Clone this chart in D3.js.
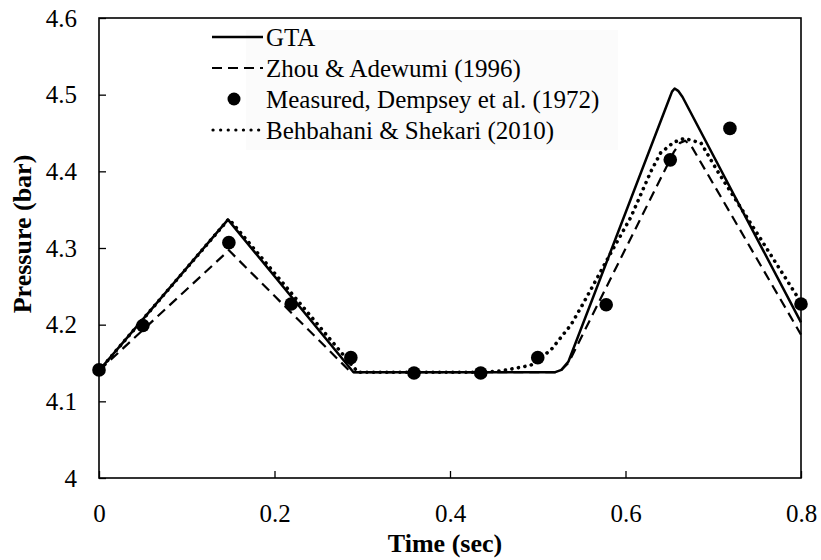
<!DOCTYPE html>
<html>
<head>
<meta charset="utf-8">
<script src="https://cdn.jsdelivr.net/npm/d3@7"></script>
<style>
  html, body { margin: 0; padding: 0; background: #fff; }
  svg { display: block; }
  text { font-family: "Liberation Serif", "Times New Roman", serif; fill: #000; }
</style>
</head>
<body>
<svg id="chart" width="821" height="560"></svg>
<script>
// ---- data ----
const xTicks = [0, 0.2, 0.4, 0.6, 0.8];
const xTickLabels = ["0", "0.2", "0.4", "0.6", "0.8"];
const yTicks = [4, 4.1, 4.2, 4.3, 4.4, 4.5, 4.6];
const yTickLabels = ["4", "4.1", "4.2", "4.3", "4.4", "4.5", "4.6"];

const gtaTime     = [0, 0.147, 0.29, 0.52, 0.527, 0.535, 0.65, 0.653, 0.656, 0.66, 0.665, 0.8];
const gtaPressure = [4.14, 4.337, 4.138, 4.138, 4.141, 4.152, 4.495, 4.504, 4.508, 4.505, 4.497, 4.203];

const zhouTime     = [0, 0.148, 0.287, 0.52, 0.527, 0.535, 0.655, 0.662, 0.668, 0.675, 0.8];
const zhouPressure = [4.14, 4.297, 4.138, 4.138, 4.141, 4.15, 4.425, 4.437, 4.44, 4.433, 4.187];

const measTime     = [0, 0.05, 0.148, 0.219, 0.287, 0.359, 0.435, 0.5, 0.578, 0.651, 0.719, 0.8];
const measPressure = [4.141, 4.199, 4.307, 4.227, 4.157, 4.137, 4.137, 4.157, 4.226, 4.415, 4.456, 4.227];

const behTime     = [0, 0.148, 0.295, 0.44, 0.46, 0.492, 0.515, 0.538, 0.552, 0.583, 0.606, 0.629, 0.64, 0.655, 0.667, 0.686, 0.705, 0.8];
const behPressure = [4.14, 4.338, 4.138, 4.138, 4.14, 4.147, 4.167, 4.2, 4.228, 4.293, 4.34, 4.40, 4.424, 4.438, 4.443, 4.437, 4.40, 4.229];

const legendLabels = ["GTA", "Zhou & Adewumi (1996)", "Measured, Dempsey et al. (1972)", "Behbahani & Shekari (2010)"];
const xTitle = "Time (sec)";
const yTitle = "Pressure (bar)";

// ---- layout ----
const FONT = '"Liberation Serif", "Times New Roman", serif';
const svg = d3.select("#chart");
const L = 99, R = 801, T = 18, B = 478;
const x = d3.scaleLinear().domain([0, 0.8]).range([L, R]);
const y = d3.scaleLinear().domain([4, 4.6]).range([B, T]);

// legend background (very faint)
svg.append("rect").attr("x", 246).attr("y", 30).attr("width", 372).attr("height", 120)
  .attr("fill", "#fbfbfb");

// axes
const xAxis = d3.axisBottom(x).tickValues(xTicks).tickSizeInner(-7).tickSizeOuter(0)
  .tickFormat((d, i) => xTickLabels[i]).tickPadding(26);
const gx = svg.append("g").attr("transform", `translate(0,${B})`).call(xAxis)
  .attr("font-family", FONT).attr("font-size", 25);
gx.select(".domain").remove();
gx.selectAll("line").attr("stroke", "#000").attr("stroke-width", 1.3);
gx.selectAll("text").style("font-family", FONT).style("font-size", "25px").attr("fill", "#000");

const yAxis = d3.axisLeft(y).tickValues(yTicks).tickSizeInner(-7).tickSizeOuter(0)
  .tickFormat((d, i) => yTickLabels[i]).tickPadding(22);
const gy = svg.append("g").attr("transform", `translate(${L},0)`).call(yAxis)
  .attr("font-family", FONT).attr("font-size", 25);
gy.select(".domain").remove();
gy.selectAll("line").attr("stroke", "#000").attr("stroke-width", 1.3);
gy.selectAll("text").style("font-family", FONT).style("font-size", "25px").attr("fill", "#000");

// frame
svg.append("rect").attr("x", L).attr("y", T).attr("width", R - L).attr("height", B - T)
  .attr("fill", "none").attr("stroke", "#000").attr("stroke-width", 1.6);

// lines
const line = d3.line().x(d => x(d[0])).y(d => y(d[1])).curve(d3.curveLinear);
const zip = (a, b) => a.map((v, i) => [v, b[i]]);

svg.append("path").datum(zip(zhouTime, zhouPressure)).attr("d", line)
  .attr("fill", "none").attr("stroke", "#000").attr("stroke-width", 2.2)
  .attr("stroke-dasharray", "10,6");
svg.append("path").datum(zip(behTime, behPressure)).attr("d", line)
  .attr("fill", "none").attr("stroke", "#000").attr("stroke-width", 3.6)
  .attr("stroke-linecap", "round").attr("stroke-dasharray", "0.1,6.5");
svg.append("path").datum(zip(gtaTime, gtaPressure)).attr("d", line)
  .attr("fill", "none").attr("stroke", "#000").attr("stroke-width", 2.5)
  .attr("stroke-linejoin", "round");

svg.append("g").selectAll("circle").data(zip(measTime, measPressure)).join("circle")
  .attr("cx", d => x(d[0])).attr("cy", d => y(d[1])).attr("r", 6.8).attr("fill", "#000");

// legend
const lg = svg.append("g");
const rowY = [37, 68, 99, 130];
const lx0 = 212, lx1 = 263, tx = 266;
lg.append("line").attr("x1", lx0).attr("x2", lx1).attr("y1", rowY[0]).attr("y2", rowY[0])
  .attr("stroke", "#000").attr("stroke-width", 2.5);
lg.append("line").attr("x1", lx0).attr("x2", lx1).attr("y1", rowY[1]).attr("y2", rowY[1])
  .attr("stroke", "#000").attr("stroke-width", 2.2).attr("stroke-dasharray", "10,6");
lg.append("circle").attr("cx", 234).attr("cy", rowY[2]).attr("r", 6.5).attr("fill", "#000");
lg.append("line").attr("x1", lx0 + 1).attr("x2", lx1).attr("y1", rowY[3]).attr("y2", rowY[3])
  .attr("stroke", "#000").attr("stroke-width", 3.2).attr("stroke-linecap", "round")
  .attr("stroke-dasharray", "0.1,7.5");
lg.selectAll("text").data(legendLabels).join("text")
  .attr("x", tx).attr("y", (d, i) => rowY[i] + 9)
  .style("font-size", "25px").text(d => d);

// axis titles
svg.append("text").attr("x", 445).attr("y", 552).attr("text-anchor", "middle")
  .style("font-size", "26px").style("font-weight", "bold").text(xTitle);
svg.append("text").attr("transform", "translate(31,234) rotate(-90)").attr("text-anchor", "middle")
  .style("font-size", "26px").style("font-weight", "bold").text(yTitle);
</script>
</body>
</html>
